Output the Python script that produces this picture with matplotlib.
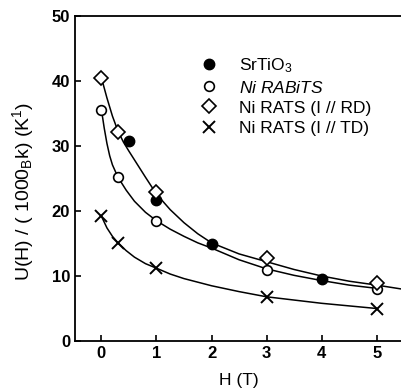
import matplotlib
matplotlib.use('Agg')
import matplotlib.pyplot as plt

plt.rcParams['font.family'] = ['Liberation Sans', 'DejaVu Sans']
plt.rcParams['mathtext.fontset'] = 'custom'
plt.rcParams['mathtext.rm'] = 'Liberation Sans'
plt.rcParams['mathtext.it'] = 'Liberation Sans:italic'

# ---------------------------------------------------------
# measured points
# ---------------------------------------------------------
srtio3_h = [0.5, 1, 2, 4]
srtio3_u = [30.7, 21.7, 14.9, 9.5]

rabits_h = [0, 0.3, 1, 3, 5]
rabits_u = [35.6, 25.2, 18.5, 11.0, 8.0]

rats_rd_h = [0, 0.3, 1, 3, 5]
rats_rd_u = [40.5, 32.2, 23.0, 12.8, 8.9]

rats_td_h = [0, 0.3, 1, 3, 5]
rats_td_u = [19.2, 15.1, 11.2, 6.8, 5.0]

# ---------------------------------------------------------
# guide-to-the-eye curves
# ---------------------------------------------------------
upper_h = [0, 0.1, 0.2, 0.3, 0.4, 0.5, 0.65, 0.8, 1.0, 1.25, 1.5, 1.75, 2.0,
           2.5, 3.0, 3.5, 4.0, 4.5, 5.0, 5.45]
upper_u = [40.5, 37.4, 34.6, 32.3, 30.6, 29.2, 27.2, 25.2, 22.6, 20.2, 18.2,
           16.5, 15.1, 13.4, 12.2, 11.0, 10.0, 9.2, 8.6, 8.0]

mid_h = [0, 0.05, 0.1, 0.15, 0.2, 0.3, 0.45, 0.6, 0.8, 1.0, 1.25, 1.5, 1.75,
         2.0, 2.5, 3.0, 3.5, 4.0, 4.5, 5.0]
mid_u = [35.6, 32.8, 30.4, 28.5, 27.1, 25.2, 23.2, 21.5, 19.8, 18.5, 17.2,
         16.1, 15.1, 14.3, 12.5, 11.1, 10.1, 9.3, 8.6, 8.1]

low_h = [0, 0.1, 0.2, 0.3, 0.45, 0.6, 0.8, 1.0, 1.25, 1.5, 2.0, 2.5, 3.0,
         3.5, 4.0, 4.5, 5.0]
low_u = [19.2, 17.4, 16.1, 15.1, 13.9, 12.9, 11.9, 11.2, 10.3, 9.6, 8.5,
         7.6, 6.8, 6.3, 5.8, 5.4, 5.0]

y_ticks = [0, 10, 20, 30, 40, 50]
x_ticks = [0, 1, 2, 3, 4, 5]

fig = plt.figure(figsize=(4.02, 3.92), dpi=100)
ax = fig.add_axes([75 / 402, 51 / 392, 1 - 75 / 402, 325 / 392])

ax.plot(upper_h, upper_u, color='black', lw=1.1, zorder=1)
ax.plot(mid_h, mid_u, color='black', lw=1.1, zorder=1)
ax.plot(low_h, low_u, color='black', lw=1.1, zorder=1)

ax.plot(srtio3_h, srtio3_u, 'o', ms=7.5, mfc='black', mec='black',
        label=r'SrTiO$_{\rm 3}$', zorder=3)
ax.plot(rabits_h, rabits_u, 'o', ms=7, mfc='white', mec='black', mew=1.2,
        label=r'$\it{Ni\ RABiTS}$', zorder=3)
ax.plot(rats_rd_h, rats_rd_u, 'D', ms=7, mfc='white', mec='black', mew=1.2,
        label='Ni RATS (I // RD)', zorder=3)
ax.plot(rats_td_h, rats_td_u, 'x', ms=9, mec='black', mew=1.4,
        label='Ni RATS (I // TD)', zorder=3)

ax.set_xlim(-0.48, 5.46)
ax.set_ylim(0, 50)
ax.set_xticks(x_ticks)
ax.set_yticks(y_ticks)
ax.tick_params(direction='in', length=4, width=1.2, labelsize=12)
for lab in ax.get_xticklabels() + ax.get_yticklabels():
    lab.set_fontweight('bold')
ax.spines['right'].set_visible(False)
for s in ['left', 'bottom', 'top']:
    ax.spines[s].set_linewidth(1.3)

ax.set_xlabel('H (T)', fontsize=12.5, labelpad=9)
ax.set_ylabel(r'U(H) / ( 1000$_{\rm B}$k) (K$^{\rm 1}$)', fontsize=14)
ax.yaxis.set_label_coords(-0.12, 0.46)

ax.legend(loc='upper left', bbox_to_anchor=(0.336, 0.925), frameon=False,
          fontsize=12.5, handletextpad=1.2, labelspacing=0.28,
          handlelength=1.0)

fig.savefig('out.png', dpi=100)
